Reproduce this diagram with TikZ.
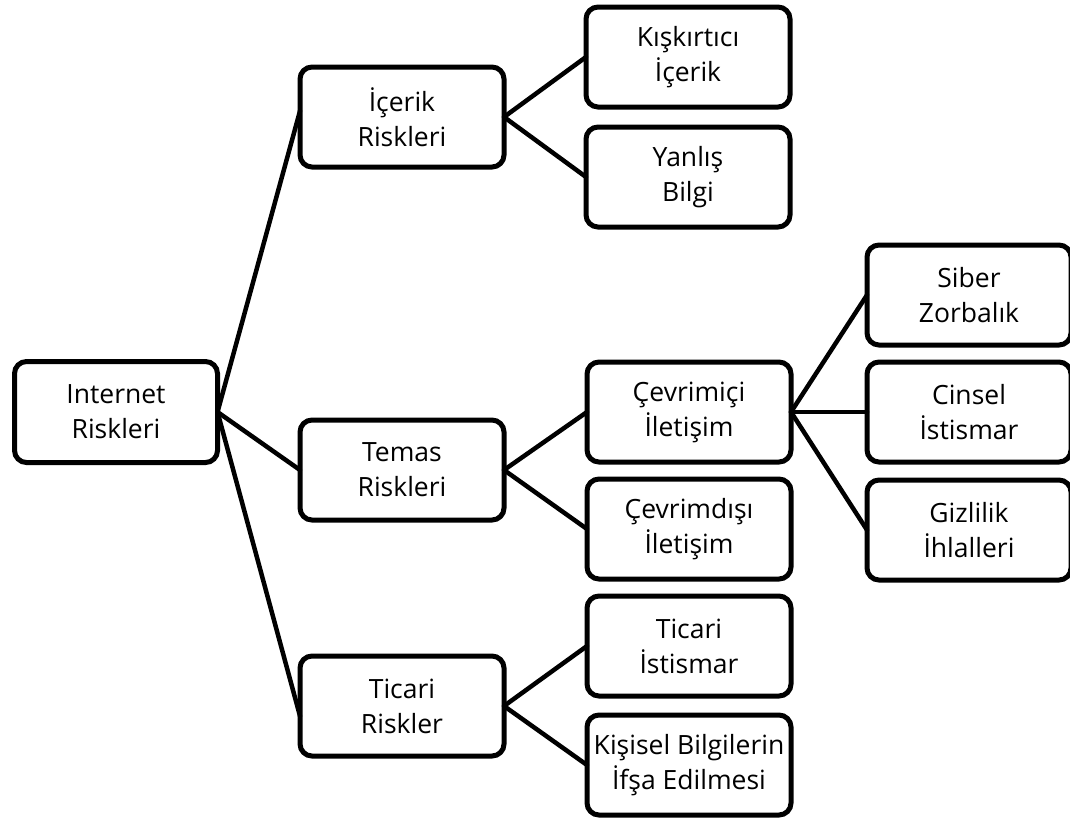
\documentclass[tikz,border=0pt]{standalone}
\usepackage{fontspec}
\setmainfont{Open Sans}
\begin{document}
\begin{tikzpicture}[x=1pt,y=-1pt,
  riskbox/.style={draw=black, line width=5pt, rounded corners=12pt, fill=white,
    minimum width=204pt, minimum height=100pt, inner sep=0pt, outer sep=0pt,
    align=center, font=\fontsize{26.5}{35}\selectfont},
  link/.style={line width=4.5pt, line cap=round, line join=round}]
\useasboundingbox (0,0) rectangle (1070,820);
% root
\node[riskbox, minimum width=203pt, minimum height=101pt] (inet) at (116,412) {Internet\\Riskleri};
% first level
\node[riskbox] (icerik) at (402,117) {İçerik\\Riskleri};
\node[riskbox] (temas)  at (402,470) {Temas\\Riskleri};
\node[riskbox] (ticari) at (402,706) {Ticari\\Riskler};
% second level
\node[riskbox] (kisk)   at (688,57)  {Kışkırtıcı\\İçerik};
\node[riskbox] (yanlis) at (688,177) {Yanlış\\Bilgi};
\node[riskbox] (cevon)  at (689,412) {Çevrimiçi\\İletişim};
\node[riskbox] (cevoff) at (689,529) {Çevrimdışı\\İletişim};
\node[riskbox] (ticist) at (689,646) {Ticari\\İstismar};
\node[riskbox] (kisisel) at (689,765) {Kişisel Bilgilerin\\İfşa Edilmesi};
% third level
\node[riskbox] (siber)  at (969,295) {Siber\\Zorbalık};
\node[riskbox] (cinsel) at (969,412) {Cinsel\\İstismar};
\node[riskbox] (gizli)  at (969,530) {Gizlilik\\İhlalleri};
% connectors
\draw[link] (inet.east) -- ([yshift=6pt]icerik.west);
\draw[link] (inet.east) -- (temas.west);
\draw[link] (inet.east) -- ([yshift=-10pt]ticari.west);
\draw[link] (icerik.east) -- (kisk.west);
\draw[link] (icerik.east) -- (yanlis.west);
\draw[link] (temas.east) -- (cevon.west);
\draw[link] (temas.east) -- (cevoff.west);
\draw[link] (ticari.east) -- (ticist.west);
\draw[link] (ticari.east) -- (kisisel.west);
\draw[link] (cevon.east) -- (siber.west);
\draw[link] (cevon.east) -- (cinsel.west);
\draw[link] (cevon.east) -- (gizli.west);
\end{tikzpicture}
\end{document}
